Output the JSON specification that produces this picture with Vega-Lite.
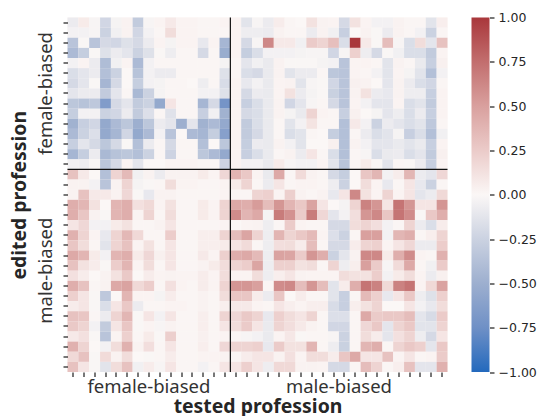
{"$schema":"https://vega.github.io/schema/vega-lite/v6.json","background":"white","padding":{"left":8.5,"top":11.5,"right":0,"bottom":4},"spacing":23,"config":{"view":{"stroke":null},"axis":{"grid":false,"domain":false,"tickColor":"#262626","tickWidth":1.25,"tickSize":4.5,"labelColor":"#333333"}},"datasets":{"cells":[
{"r":0,"c":0,"v":-0.08},{"r":0,"c":1,"v":0.07},{"r":0,"c":2,"v":-0.02},{"r":0,"c":3,"v":-0.22},{"r":0,"c":4,"v":-0.03},{"r":0,"c":5,"v":0.03},{"r":0,"c":6,"v":-0.3},{"r":0,"c":7,"v":-0.02},{"r":0,"c":8,"v":0.02},{"r":0,"c":9,"v":0.08},{"r":0,"c":10,"v":0.02},{"r":0,"c":11,"v":0.02},{"r":0,"c":12,"v":0.01},{"r":0,"c":13,"v":0.01},{"r":0,"c":14,"v":0.02},{"r":0,"c":15,"v":0.02},{"r":0,"c":16,"v":-0.13},{"r":0,"c":17,"v":-0.02},{"r":0,"c":18,"v":-0.08},{"r":0,"c":19,"v":0.06},{"r":0,"c":20,"v":0.01},{"r":0,"c":21,"v":0},{"r":0,"c":22,"v":0.12},{"r":0,"c":23,"v":0.03},{"r":0,"c":24,"v":0.02},{"r":0,"c":25,"v":-0.2},{"r":0,"c":26,"v":0.12},{"r":0,"c":27,"v":0.02},{"r":0,"c":28,"v":-0.04},{"r":0,"c":29,"v":-0.04},{"r":0,"c":30,"v":0.03},{"r":0,"c":31,"v":0.01},{"r":0,"c":32,"v":0.01},{"r":0,"c":33,"v":-0.13},{"r":0,"c":34,"v":0.05},
{"r":1,"c":0,"v":-0.04},{"r":1,"c":1,"v":-0.04},{"r":1,"c":2,"v":-0.02},{"r":1,"c":3,"v":-0.25},{"r":1,"c":4,"v":-0.05},{"r":1,"c":5,"v":0.03},{"r":1,"c":6,"v":-0.22},{"r":1,"c":7,"v":-0.04},{"r":1,"c":8,"v":0.01},{"r":1,"c":9,"v":0.15},{"r":1,"c":10,"v":0.02},{"r":1,"c":11,"v":0.02},{"r":1,"c":12,"v":0.01},{"r":1,"c":13,"v":0.01},{"r":1,"c":14,"v":0.01},{"r":1,"c":15,"v":0.02},{"r":1,"c":16,"v":-0.07},{"r":1,"c":17,"v":-0.07},{"r":1,"c":18,"v":-0.08},{"r":1,"c":19,"v":0.03},{"r":1,"c":20,"v":0.01},{"r":1,"c":21,"v":0.01},{"r":1,"c":22,"v":-0.08},{"r":1,"c":23,"v":0.03},{"r":1,"c":24,"v":-0.05},{"r":1,"c":25,"v":-0.27},{"r":1,"c":26,"v":0},{"r":1,"c":27,"v":0.03},{"r":1,"c":28,"v":-0.01},{"r":1,"c":29,"v":-0.08},{"r":1,"c":30,"v":0.03},{"r":1,"c":31,"v":0.01},{"r":1,"c":32,"v":-0.04},{"r":1,"c":33,"v":-0.25},{"r":1,"c":34,"v":0.01},
{"r":2,"c":0,"v":-0.35},{"r":2,"c":1,"v":-0.01},{"r":2,"c":2,"v":-0.35},{"r":2,"c":3,"v":-0.2},{"r":2,"c":4,"v":-0.22},{"r":2,"c":5,"v":-0.15},{"r":2,"c":6,"v":-0.2},{"r":2,"c":7,"v":-0.08},{"r":2,"c":8,"v":0.02},{"r":2,"c":9,"v":-0.03},{"r":2,"c":10,"v":0.02},{"r":2,"c":11,"v":0.02},{"r":2,"c":12,"v":-0.1},{"r":2,"c":13,"v":0.02},{"r":2,"c":14,"v":-0.45},{"r":2,"c":15,"v":0.02},{"r":2,"c":16,"v":-0.2},{"r":2,"c":17,"v":-0.02},{"r":2,"c":18,"v":0.62},{"r":2,"c":19,"v":0.08},{"r":2,"c":20,"v":0.08},{"r":2,"c":21,"v":-0.05},{"r":2,"c":22,"v":0.25},{"r":2,"c":23,"v":0.2},{"r":2,"c":24,"v":0.32},{"r":2,"c":25,"v":-0.17},{"r":2,"c":26,"v":1},{"r":2,"c":27,"v":0.08},{"r":2,"c":28,"v":-0.01},{"r":2,"c":29,"v":0.33},{"r":2,"c":30,"v":-0.02},{"r":2,"c":31,"v":-0.17},{"r":2,"c":32,"v":0.15},{"r":2,"c":33,"v":-0.12},{"r":2,"c":34,"v":0.3},
{"r":3,"c":0,"v":-0.42},{"r":3,"c":1,"v":-0.28},{"r":3,"c":2,"v":-0.01},{"r":3,"c":3,"v":-0.15},{"r":3,"c":4,"v":-0.08},{"r":3,"c":5,"v":-0.12},{"r":3,"c":6,"v":-0.25},{"r":3,"c":7,"v":-0.15},{"r":3,"c":8,"v":-0.01},{"r":3,"c":9,"v":-0.07},{"r":3,"c":10,"v":0.01},{"r":3,"c":11,"v":0.01},{"r":3,"c":12,"v":-0.2},{"r":3,"c":13,"v":0.01},{"r":3,"c":14,"v":-0.52},{"r":3,"c":15,"v":0.02},{"r":3,"c":16,"v":-0.28},{"r":3,"c":17,"v":-0.17},{"r":3,"c":18,"v":-0.04},{"r":3,"c":19,"v":-0.04},{"r":3,"c":20,"v":-0.04},{"r":3,"c":21,"v":-0.03},{"r":3,"c":22,"v":-0.02},{"r":3,"c":23,"v":-0.02},{"r":3,"c":24,"v":-0.22},{"r":3,"c":25,"v":-0.02},{"r":3,"c":26,"v":0.22},{"r":3,"c":27,"v":-0.07},{"r":3,"c":28,"v":-0.2},{"r":3,"c":29,"v":-0.01},{"r":3,"c":30,"v":-0.05},{"r":3,"c":31,"v":-0.17},{"r":3,"c":32,"v":-0.17},{"r":3,"c":33,"v":-0.3},{"r":3,"c":34,"v":0.02},
{"r":4,"c":0,"v":-0.04},{"r":4,"c":1,"v":0.02},{"r":4,"c":2,"v":-0.08},{"r":4,"c":3,"v":-0.4},{"r":4,"c":4,"v":-0.05},{"r":4,"c":5,"v":0.02},{"r":4,"c":6,"v":-0.42},{"r":4,"c":7,"v":-0.04},{"r":4,"c":8,"v":0.01},{"r":4,"c":9,"v":0.01},{"r":4,"c":10,"v":0.01},{"r":4,"c":11,"v":0.01},{"r":4,"c":12,"v":0.01},{"r":4,"c":13,"v":0.01},{"r":4,"c":14,"v":-0.03},{"r":4,"c":15,"v":0.01},{"r":4,"c":16,"v":-0.12},{"r":4,"c":17,"v":-0.05},{"r":4,"c":18,"v":-0.09},{"r":4,"c":19,"v":0.03},{"r":4,"c":20,"v":-0.01},{"r":4,"c":21,"v":-0.01},{"r":4,"c":22,"v":-0.01},{"r":4,"c":23,"v":-0.03},{"r":4,"c":24,"v":-0.04},{"r":4,"c":25,"v":-0.35},{"r":4,"c":26,"v":0.02},{"r":4,"c":27,"v":0.02},{"r":4,"c":28,"v":0.01},{"r":4,"c":29,"v":-0.13},{"r":4,"c":30,"v":0.03},{"r":4,"c":31,"v":0.01},{"r":4,"c":32,"v":-0.09},{"r":4,"c":33,"v":-0.27},{"r":4,"c":34,"v":0.04},
{"r":5,"c":0,"v":-0.17},{"r":5,"c":1,"v":-0.12},{"r":5,"c":2,"v":-0.08},{"r":5,"c":3,"v":-0.38},{"r":5,"c":4,"v":-0.25},{"r":5,"c":5,"v":0},{"r":5,"c":6,"v":-0.36},{"r":5,"c":7,"v":-0.04},{"r":5,"c":8,"v":-0.08},{"r":5,"c":9,"v":-0.08},{"r":5,"c":10,"v":0.01},{"r":5,"c":11,"v":0.01},{"r":5,"c":12,"v":0.01},{"r":5,"c":13,"v":0.01},{"r":5,"c":14,"v":-0.15},{"r":5,"c":15,"v":0.01},{"r":5,"c":16,"v":-0.17},{"r":5,"c":17,"v":-0.2},{"r":5,"c":18,"v":-0.09},{"r":5,"c":19,"v":0.03},{"r":5,"c":20,"v":-0.13},{"r":5,"c":21,"v":-0.08},{"r":5,"c":22,"v":-0.08},{"r":5,"c":23,"v":0.01},{"r":5,"c":24,"v":-0.33},{"r":5,"c":25,"v":-0.35},{"r":5,"c":26,"v":0.02},{"r":5,"c":27,"v":0.01},{"r":5,"c":28,"v":-0.04},{"r":5,"c":29,"v":-0.13},{"r":5,"c":30,"v":0.02},{"r":5,"c":31,"v":-0.03},{"r":5,"c":32,"v":-0.13},{"r":5,"c":33,"v":-0.38},{"r":5,"c":34,"v":-0.04},
{"r":6,"c":0,"v":-0.2},{"r":6,"c":1,"v":-0.12},{"r":6,"c":2,"v":-0.01},{"r":6,"c":3,"v":-0.45},{"r":6,"c":4,"v":-0.2},{"r":6,"c":5,"v":0},{"r":6,"c":6,"v":-0.28},{"r":6,"c":7,"v":-0.04},{"r":6,"c":8,"v":-0.03},{"r":6,"c":9,"v":0.01},{"r":6,"c":10,"v":0.01},{"r":6,"c":11,"v":0},{"r":6,"c":12,"v":-0.07},{"r":6,"c":13,"v":0.01},{"r":6,"c":14,"v":-0.18},{"r":6,"c":15,"v":0.02},{"r":6,"c":16,"v":-0.1},{"r":6,"c":17,"v":-0.04},{"r":6,"c":18,"v":-0.09},{"r":6,"c":19,"v":0.02},{"r":6,"c":20,"v":0.03},{"r":6,"c":21,"v":-0.13},{"r":6,"c":22,"v":-0.02},{"r":6,"c":23,"v":-0.01},{"r":6,"c":24,"v":-0.22},{"r":6,"c":25,"v":-0.35},{"r":6,"c":26,"v":0.04},{"r":6,"c":27,"v":0.03},{"r":6,"c":28,"v":0},{"r":6,"c":29,"v":-0.12},{"r":6,"c":30,"v":0.03},{"r":6,"c":31,"v":-0.08},{"r":6,"c":32,"v":-0.17},{"r":6,"c":33,"v":-0.22},{"r":6,"c":34,"v":0.01},
{"r":7,"c":0,"v":-0.12},{"r":7,"c":1,"v":-0.08},{"r":7,"c":2,"v":-0.08},{"r":7,"c":3,"v":-0.3},{"r":7,"c":4,"v":-0.12},{"r":7,"c":5,"v":0.01},{"r":7,"c":6,"v":-0.43},{"r":7,"c":7,"v":-0.25},{"r":7,"c":8,"v":-0.03},{"r":7,"c":9,"v":0.01},{"r":7,"c":10,"v":0.01},{"r":7,"c":11,"v":0.01},{"r":7,"c":12,"v":-0.04},{"r":7,"c":13,"v":-0.04},{"r":7,"c":14,"v":-0.15},{"r":7,"c":15,"v":0.02},{"r":7,"c":16,"v":-0.2},{"r":7,"c":17,"v":-0.08},{"r":7,"c":18,"v":-0.09},{"r":7,"c":19,"v":0.02},{"r":7,"c":20,"v":0.12},{"r":7,"c":21,"v":-0.08},{"r":7,"c":22,"v":-0.03},{"r":7,"c":23,"v":-0.01},{"r":7,"c":24,"v":-0.26},{"r":7,"c":25,"v":-0.35},{"r":7,"c":26,"v":0.03},{"r":7,"c":27,"v":0.12},{"r":7,"c":28,"v":-0.08},{"r":7,"c":29,"v":-0.1},{"r":7,"c":30,"v":0.03},{"r":7,"c":31,"v":-0.07},{"r":7,"c":32,"v":-0.07},{"r":7,"c":33,"v":-0.27},{"r":7,"c":34,"v":0.02},
{"r":8,"c":0,"v":-0.33},{"r":8,"c":1,"v":-0.36},{"r":8,"c":2,"v":-0.32},{"r":8,"c":3,"v":-0.65},{"r":8,"c":4,"v":-0.2},{"r":8,"c":5,"v":-0.12},{"r":8,"c":6,"v":-0.3},{"r":8,"c":7,"v":-0.25},{"r":8,"c":8,"v":-0.55},{"r":8,"c":9,"v":0.1},{"r":8,"c":10,"v":0.01},{"r":8,"c":11,"v":0.01},{"r":8,"c":12,"v":-0.45},{"r":8,"c":13,"v":-0.2},{"r":8,"c":14,"v":-0.72},{"r":8,"c":15,"v":0.02},{"r":8,"c":16,"v":-0.27},{"r":8,"c":17,"v":-0.17},{"r":8,"c":18,"v":-0.09},{"r":8,"c":19,"v":0.03},{"r":8,"c":20,"v":-0.22},{"r":8,"c":21,"v":-0.12},{"r":8,"c":22,"v":-0.02},{"r":8,"c":23,"v":0.01},{"r":8,"c":24,"v":-0.2},{"r":8,"c":25,"v":-0.35},{"r":8,"c":26,"v":0.02},{"r":8,"c":27,"v":-0.04},{"r":8,"c":28,"v":-0.12},{"r":8,"c":29,"v":-0.12},{"r":8,"c":30,"v":0.02},{"r":8,"c":31,"v":-0.17},{"r":8,"c":32,"v":-0.13},{"r":8,"c":33,"v":-0.3},{"r":8,"c":34,"v":0.02},
{"r":9,"c":0,"v":-0.28},{"r":9,"c":1,"v":-0.04},{"r":9,"c":2,"v":-0.04},{"r":9,"c":3,"v":-0.25},{"r":9,"c":4,"v":-0.22},{"r":9,"c":5,"v":-0.08},{"r":9,"c":6,"v":-0.3},{"r":9,"c":7,"v":-0.16},{"r":9,"c":8,"v":0.01},{"r":9,"c":9,"v":-0.14},{"r":9,"c":10,"v":0.01},{"r":9,"c":11,"v":0.01},{"r":9,"c":12,"v":-0.27},{"r":9,"c":13,"v":-0.05},{"r":9,"c":14,"v":-0.48},{"r":9,"c":15,"v":0.02},{"r":9,"c":16,"v":-0.2},{"r":9,"c":17,"v":-0.17},{"r":9,"c":18,"v":-0.09},{"r":9,"c":19,"v":0.03},{"r":9,"c":20,"v":-0.03},{"r":9,"c":21,"v":-0.09},{"r":9,"c":22,"v":0.2},{"r":9,"c":23,"v":0.02},{"r":9,"c":24,"v":0.01},{"r":9,"c":25,"v":-0.27},{"r":9,"c":26,"v":0.04},{"r":9,"c":27,"v":0},{"r":9,"c":28,"v":-0.03},{"r":9,"c":29,"v":-0.12},{"r":9,"c":30,"v":-0.07},{"r":9,"c":31,"v":-0.17},{"r":9,"c":32,"v":-0.08},{"r":9,"c":33,"v":-0.27},{"r":9,"c":34,"v":0.02},
{"r":10,"c":0,"v":-0.48},{"r":10,"c":1,"v":-0.27},{"r":10,"c":2,"v":-0.22},{"r":10,"c":3,"v":-0.55},{"r":10,"c":4,"v":-0.42},{"r":10,"c":5,"v":-0.33},{"r":10,"c":6,"v":-0.5},{"r":10,"c":7,"v":-0.33},{"r":10,"c":8,"v":-0.08},{"r":10,"c":9,"v":-0.12},{"r":10,"c":10,"v":-0.5},{"r":10,"c":11,"v":-0.12},{"r":10,"c":12,"v":-0.48},{"r":10,"c":13,"v":-0.42},{"r":10,"c":14,"v":-0.55},{"r":10,"c":15,"v":0.02},{"r":10,"c":16,"v":-0.3},{"r":10,"c":17,"v":-0.17},{"r":10,"c":18,"v":-0.09},{"r":10,"c":19,"v":0.01},{"r":10,"c":20,"v":-0.13},{"r":10,"c":21,"v":-0.04},{"r":10,"c":22,"v":0.11},{"r":10,"c":23,"v":0.01},{"r":10,"c":24,"v":0.01},{"r":10,"c":25,"v":-0.38},{"r":10,"c":26,"v":0.08},{"r":10,"c":27,"v":-0.04},{"r":10,"c":28,"v":-0.25},{"r":10,"c":29,"v":-0.08},{"r":10,"c":30,"v":-0.12},{"r":10,"c":31,"v":-0.17},{"r":10,"c":32,"v":-0.13},{"r":10,"c":33,"v":-0.32},{"r":10,"c":34,"v":0.01},
{"r":11,"c":0,"v":-0.42},{"r":11,"c":1,"v":-0.25},{"r":11,"c":2,"v":-0.16},{"r":11,"c":3,"v":-0.55},{"r":11,"c":4,"v":-0.45},{"r":11,"c":5,"v":-0.22},{"r":11,"c":6,"v":-0.55},{"r":11,"c":7,"v":-0.42},{"r":11,"c":8,"v":-0.04},{"r":11,"c":9,"v":-0.35},{"r":11,"c":10,"v":0},{"r":11,"c":11,"v":-0.42},{"r":11,"c":12,"v":-0.45},{"r":11,"c":13,"v":-0.28},{"r":11,"c":14,"v":-0.62},{"r":11,"c":15,"v":0.02},{"r":11,"c":16,"v":-0.3},{"r":11,"c":17,"v":-0.2},{"r":11,"c":18,"v":-0.09},{"r":11,"c":19,"v":0.01},{"r":11,"c":20,"v":-0.17},{"r":11,"c":21,"v":-0.13},{"r":11,"c":22,"v":0.01},{"r":11,"c":23,"v":0},{"r":11,"c":24,"v":-0.28},{"r":11,"c":25,"v":-0.38},{"r":11,"c":26,"v":0.01},{"r":11,"c":27,"v":-0.08},{"r":11,"c":28,"v":-0.17},{"r":11,"c":29,"v":-0.13},{"r":11,"c":30,"v":-0.03},{"r":11,"c":31,"v":-0.27},{"r":11,"c":32,"v":-0.17},{"r":11,"c":33,"v":-0.38},{"r":11,"c":34,"v":-0.05},
{"r":12,"c":0,"v":-0.27},{"r":12,"c":1,"v":-0.12},{"r":12,"c":2,"v":-0.2},{"r":12,"c":3,"v":-0.33},{"r":12,"c":4,"v":-0.2},{"r":12,"c":5,"v":-0.01},{"r":12,"c":6,"v":-0.38},{"r":12,"c":7,"v":-0.08},{"r":12,"c":8,"v":0.01},{"r":12,"c":9,"v":-0.2},{"r":12,"c":10,"v":0.01},{"r":12,"c":11,"v":0.01},{"r":12,"c":12,"v":-0.38},{"r":12,"c":13,"v":0},{"r":12,"c":14,"v":-0.33},{"r":12,"c":15,"v":0.02},{"r":12,"c":16,"v":-0.28},{"r":12,"c":17,"v":-0.08},{"r":12,"c":18,"v":-0.09},{"r":12,"c":19,"v":0.03},{"r":12,"c":20,"v":-0.04},{"r":12,"c":21,"v":-0.13},{"r":12,"c":22,"v":0},{"r":12,"c":23,"v":0},{"r":12,"c":24,"v":0.04},{"r":12,"c":25,"v":-0.38},{"r":12,"c":26,"v":0.03},{"r":12,"c":27,"v":-0.04},{"r":12,"c":28,"v":-0.12},{"r":12,"c":29,"v":-0.12},{"r":12,"c":30,"v":-0.09},{"r":12,"c":31,"v":-0.13},{"r":12,"c":32,"v":-0.09},{"r":12,"c":33,"v":-0.27},{"r":12,"c":34,"v":0.02},
{"r":13,"c":0,"v":-0.45},{"r":13,"c":1,"v":-0.28},{"r":13,"c":2,"v":-0.08},{"r":13,"c":3,"v":-0.43},{"r":13,"c":4,"v":-0.36},{"r":13,"c":5,"v":-0.33},{"r":13,"c":6,"v":-0.38},{"r":13,"c":7,"v":-0.25},{"r":13,"c":8,"v":0.01},{"r":13,"c":9,"v":-0.24},{"r":13,"c":10,"v":0.01},{"r":13,"c":11,"v":0.01},{"r":13,"c":12,"v":-0.33},{"r":13,"c":13,"v":-0.42},{"r":13,"c":14,"v":-0.55},{"r":13,"c":15,"v":0.02},{"r":13,"c":16,"v":-0.27},{"r":13,"c":17,"v":-0.17},{"r":13,"c":18,"v":-0.09},{"r":13,"c":19,"v":0.01},{"r":13,"c":20,"v":0.03},{"r":13,"c":21,"v":-0.08},{"r":13,"c":22,"v":0.1},{"r":13,"c":23,"v":0.01},{"r":13,"c":24,"v":-0.17},{"r":13,"c":25,"v":-0.38},{"r":13,"c":26,"v":0.01},{"r":13,"c":27,"v":-0.02},{"r":13,"c":28,"v":-0.17},{"r":13,"c":29,"v":-0.09},{"r":13,"c":30,"v":-0.08},{"r":13,"c":31,"v":-0.17},{"r":13,"c":32,"v":-0.12},{"r":13,"c":33,"v":-0.3},{"r":13,"c":34,"v":0.04},
{"r":14,"c":0,"v":-0.05},{"r":14,"c":1,"v":-0.06},{"r":14,"c":2,"v":-0.01},{"r":14,"c":3,"v":-0.33},{"r":14,"c":4,"v":-0.2},{"r":14,"c":5,"v":0.02},{"r":14,"c":6,"v":-0.12},{"r":14,"c":7,"v":0},{"r":14,"c":8,"v":0},{"r":14,"c":9,"v":0.02},{"r":14,"c":10,"v":0.02},{"r":14,"c":11,"v":0.02},{"r":14,"c":12,"v":0.01},{"r":14,"c":13,"v":0.01},{"r":14,"c":14,"v":-0.24},{"r":14,"c":15,"v":0.02},{"r":14,"c":16,"v":-0.04},{"r":14,"c":17,"v":-0.04},{"r":14,"c":18,"v":-0.09},{"r":14,"c":19,"v":0.07},{"r":14,"c":20,"v":-0.02},{"r":14,"c":21,"v":-0.04},{"r":14,"c":22,"v":-0.04},{"r":14,"c":23,"v":0.02},{"r":14,"c":24,"v":-0.13},{"r":14,"c":25,"v":-0.35},{"r":14,"c":26,"v":0.01},{"r":14,"c":27,"v":0.07},{"r":14,"c":28,"v":-0.01},{"r":14,"c":29,"v":-0.13},{"r":14,"c":30,"v":0.01},{"r":14,"c":31,"v":-0.01},{"r":14,"c":32,"v":-0.08},{"r":14,"c":33,"v":-0.27},{"r":14,"c":34,"v":0.02},
{"r":15,"c":0,"v":0.3},{"r":15,"c":1,"v":0.08},{"r":15,"c":2,"v":0},{"r":15,"c":3,"v":-0.38},{"r":15,"c":4,"v":0.2},{"r":15,"c":5,"v":0.35},{"r":15,"c":6,"v":-0.05},{"r":15,"c":7,"v":0.03},{"r":15,"c":8,"v":-0.08},{"r":15,"c":9,"v":0.03},{"r":15,"c":10,"v":0.03},{"r":15,"c":11,"v":0.03},{"r":15,"c":12,"v":0.07},{"r":15,"c":13,"v":0.02},{"r":15,"c":14,"v":0.18},{"r":15,"c":15,"v":0.38},{"r":15,"c":16,"v":0.27},{"r":15,"c":17,"v":0.02},{"r":15,"c":18,"v":-0.09},{"r":15,"c":19,"v":0.45},{"r":15,"c":20,"v":0.01},{"r":15,"c":21,"v":0.16},{"r":15,"c":22,"v":0.03},{"r":15,"c":23,"v":0.01},{"r":15,"c":24,"v":-0.2},{"r":15,"c":25,"v":-0.28},{"r":15,"c":26,"v":0},{"r":15,"c":27,"v":0.28},{"r":15,"c":28,"v":0.37},{"r":15,"c":29,"v":-0.04},{"r":15,"c":30,"v":0.06},{"r":15,"c":31,"v":0.37},{"r":15,"c":32,"v":-0.08},{"r":15,"c":33,"v":-0.12},{"r":15,"c":34,"v":0.18},
{"r":16,"c":0,"v":0.03},{"r":16,"c":1,"v":0.03},{"r":16,"c":2,"v":-0.04},{"r":16,"c":3,"v":-0.35},{"r":16,"c":4,"v":0.03},{"r":16,"c":5,"v":0.2},{"r":16,"c":6,"v":-0.03},{"r":16,"c":7,"v":-0.01},{"r":16,"c":8,"v":0.01},{"r":16,"c":9,"v":0.15},{"r":16,"c":10,"v":0.02},{"r":16,"c":11,"v":0.02},{"r":16,"c":12,"v":0.01},{"r":16,"c":13,"v":0.01},{"r":16,"c":14,"v":0.02},{"r":16,"c":15,"v":0.07},{"r":16,"c":16,"v":0.2},{"r":16,"c":17,"v":0.01},{"r":16,"c":18,"v":-0.08},{"r":16,"c":19,"v":0.1},{"r":16,"c":20,"v":0.01},{"r":16,"c":21,"v":0.02},{"r":16,"c":22,"v":0.02},{"r":16,"c":23,"v":0.01},{"r":16,"c":24,"v":-0.07},{"r":16,"c":25,"v":-0.25},{"r":16,"c":26,"v":0},{"r":16,"c":27,"v":0.15},{"r":16,"c":28,"v":0.02},{"r":16,"c":29,"v":-0.1},{"r":16,"c":30,"v":0.01},{"r":16,"c":31,"v":0.1},{"r":16,"c":32,"v":-0.1},{"r":16,"c":33,"v":-0.25},{"r":16,"c":34,"v":0.01},
{"r":17,"c":0,"v":0.03},{"r":17,"c":1,"v":0.3},{"r":17,"c":2,"v":0.08},{"r":17,"c":3,"v":0.08},{"r":17,"c":4,"v":0.03},{"r":17,"c":5,"v":0.18},{"r":17,"c":6,"v":-0.01},{"r":17,"c":7,"v":-0.1},{"r":17,"c":8,"v":0.03},{"r":17,"c":9,"v":0.03},{"r":17,"c":10,"v":0.01},{"r":17,"c":11,"v":0.01},{"r":17,"c":12,"v":0.01},{"r":17,"c":13,"v":0.01},{"r":17,"c":14,"v":0.02},{"r":17,"c":15,"v":0.01},{"r":17,"c":16,"v":0.01},{"r":17,"c":17,"v":0.2},{"r":17,"c":18,"v":0.22},{"r":17,"c":19,"v":0.02},{"r":17,"c":20,"v":0.23},{"r":17,"c":21,"v":0.03},{"r":17,"c":22,"v":0.01},{"r":17,"c":23,"v":0.03},{"r":17,"c":24,"v":-0.1},{"r":17,"c":25,"v":0.1},{"r":17,"c":26,"v":0.62},{"r":17,"c":27,"v":0.12},{"r":17,"c":28,"v":0.02},{"r":17,"c":29,"v":0.2},{"r":17,"c":30,"v":0.02},{"r":17,"c":31,"v":0.1},{"r":17,"c":32,"v":-0.12},{"r":17,"c":33,"v":-0.08},{"r":17,"c":34,"v":0.17},
{"r":18,"c":0,"v":0.42},{"r":18,"c":1,"v":0.37},{"r":18,"c":2,"v":0.12},{"r":18,"c":3,"v":0},{"r":18,"c":4,"v":0.38},{"r":18,"c":5,"v":0.42},{"r":18,"c":6,"v":0.13},{"r":18,"c":7,"v":0.17},{"r":18,"c":8,"v":0.02},{"r":18,"c":9,"v":0.12},{"r":18,"c":10,"v":0.01},{"r":18,"c":11,"v":0.01},{"r":18,"c":12,"v":0.07},{"r":18,"c":13,"v":0.02},{"r":18,"c":14,"v":0.2},{"r":18,"c":15,"v":0.45},{"r":18,"c":16,"v":0.42},{"r":18,"c":17,"v":0.52},{"r":18,"c":18,"v":0.33},{"r":18,"c":19,"v":0.55},{"r":18,"c":20,"v":0.38},{"r":18,"c":21,"v":0.27},{"r":18,"c":22,"v":0.48},{"r":18,"c":23,"v":0.1},{"r":18,"c":24,"v":0},{"r":18,"c":25,"v":-0.03},{"r":18,"c":26,"v":0.2},{"r":18,"c":27,"v":0.65},{"r":18,"c":28,"v":0.55},{"r":18,"c":29,"v":0.1},{"r":18,"c":30,"v":0.72},{"r":18,"c":31,"v":0.55},{"r":18,"c":32,"v":0.1},{"r":18,"c":33,"v":0.1},{"r":18,"c":34,"v":0.55},
{"r":19,"c":0,"v":0.42},{"r":19,"c":1,"v":0.28},{"r":19,"c":2,"v":0.03},{"r":19,"c":3,"v":-0.01},{"r":19,"c":4,"v":0.38},{"r":19,"c":5,"v":0.42},{"r":19,"c":6,"v":0.02},{"r":19,"c":7,"v":0.2},{"r":19,"c":8,"v":0.01},{"r":19,"c":9,"v":0.15},{"r":19,"c":10,"v":0.01},{"r":19,"c":11,"v":0.01},{"r":19,"c":12,"v":0.07},{"r":19,"c":13,"v":0.02},{"r":19,"c":14,"v":0.2},{"r":19,"c":15,"v":0.6},{"r":19,"c":16,"v":0.38},{"r":19,"c":17,"v":0.45},{"r":19,"c":18,"v":-0.03},{"r":19,"c":19,"v":0.68},{"r":19,"c":20,"v":0.57},{"r":19,"c":21,"v":0.25},{"r":19,"c":22,"v":0.68},{"r":19,"c":23,"v":0.18},{"r":19,"c":24,"v":-0.12},{"r":19,"c":25,"v":-0.04},{"r":19,"c":26,"v":0.14},{"r":19,"c":27,"v":0.55},{"r":19,"c":28,"v":0.62},{"r":19,"c":29,"v":0.28},{"r":19,"c":30,"v":0.72},{"r":19,"c":31,"v":0.6},{"r":19,"c":32,"v":-0.01},{"r":19,"c":33,"v":0.27},{"r":19,"c":34,"v":0.42},
{"r":20,"c":0,"v":0.1},{"r":20,"c":1,"v":0.18},{"r":20,"c":2,"v":-0.04},{"r":20,"c":3,"v":-0.04},{"r":20,"c":4,"v":0.07},{"r":20,"c":5,"v":0.12},{"r":20,"c":6,"v":0.01},{"r":20,"c":7,"v":0.01},{"r":20,"c":8,"v":0.03},{"r":20,"c":9,"v":0.1},{"r":20,"c":10,"v":0.01},{"r":20,"c":11,"v":0.01},{"r":20,"c":12,"v":0.01},{"r":20,"c":13,"v":0.01},{"r":20,"c":14,"v":0.02},{"r":20,"c":15,"v":0},{"r":20,"c":16,"v":0.02},{"r":20,"c":17,"v":0.03},{"r":20,"c":18,"v":-0.07},{"r":20,"c":19,"v":0.01},{"r":20,"c":20,"v":0.25},{"r":20,"c":21,"v":0.02},{"r":20,"c":22,"v":0.01},{"r":20,"c":23,"v":0.01},{"r":20,"c":24,"v":-0.2},{"r":20,"c":25,"v":-0.2},{"r":20,"c":26,"v":0.15},{"r":20,"c":27,"v":0.2},{"r":20,"c":28,"v":0.14},{"r":20,"c":29,"v":-0.04},{"r":20,"c":30,"v":0.01},{"r":20,"c":31,"v":0.2},{"r":20,"c":32,"v":-0.08},{"r":20,"c":33,"v":-0.17},{"r":20,"c":34,"v":0.06},
{"r":21,"c":0,"v":0.4},{"r":21,"c":1,"v":0.2},{"r":21,"c":2,"v":0.02},{"r":21,"c":3,"v":-0.1},{"r":21,"c":4,"v":0.2},{"r":21,"c":5,"v":0.36},{"r":21,"c":6,"v":0.17},{"r":21,"c":7,"v":0.01},{"r":21,"c":8,"v":0.01},{"r":21,"c":9,"v":0.24},{"r":21,"c":10,"v":0.01},{"r":21,"c":11,"v":0.01},{"r":21,"c":12,"v":0.05},{"r":21,"c":13,"v":0.05},{"r":21,"c":14,"v":0.2},{"r":21,"c":15,"v":0.33},{"r":21,"c":16,"v":0.47},{"r":21,"c":17,"v":0.2},{"r":21,"c":18,"v":-0.07},{"r":21,"c":19,"v":0.38},{"r":21,"c":20,"v":0.2},{"r":21,"c":21,"v":0.27},{"r":21,"c":22,"v":0.35},{"r":21,"c":23,"v":0.02},{"r":21,"c":24,"v":-0.16},{"r":21,"c":25,"v":-0.25},{"r":21,"c":26,"v":0.01},{"r":21,"c":27,"v":0.5},{"r":21,"c":28,"v":0.5},{"r":21,"c":29,"v":-0.04},{"r":21,"c":30,"v":0.37},{"r":21,"c":31,"v":0.42},{"r":21,"c":32,"v":0.01},{"r":21,"c":33,"v":0.05},{"r":21,"c":34,"v":0.2},
{"r":22,"c":0,"v":0.28},{"r":22,"c":1,"v":0.15},{"r":22,"c":2,"v":0.01},{"r":22,"c":3,"v":-0.13},{"r":22,"c":4,"v":0.2},{"r":22,"c":5,"v":0.3},{"r":22,"c":6,"v":0.02},{"r":22,"c":7,"v":0.12},{"r":22,"c":8,"v":0.01},{"r":22,"c":9,"v":0.1},{"r":22,"c":10,"v":0.01},{"r":22,"c":11,"v":0.01},{"r":22,"c":12,"v":0.05},{"r":22,"c":13,"v":0.05},{"r":22,"c":14,"v":0.07},{"r":22,"c":15,"v":0.1},{"r":22,"c":16,"v":0.16},{"r":22,"c":17,"v":0.01},{"r":22,"c":18,"v":-0.07},{"r":22,"c":19,"v":0.14},{"r":22,"c":20,"v":0.15},{"r":22,"c":21,"v":0.06},{"r":22,"c":22,"v":0.33},{"r":22,"c":23,"v":0.01},{"r":22,"c":24,"v":-0.2},{"r":22,"c":25,"v":-0.2},{"r":22,"c":26,"v":0.06},{"r":22,"c":27,"v":0.2},{"r":22,"c":28,"v":0.22},{"r":22,"c":29,"v":0.02},{"r":22,"c":30,"v":0.1},{"r":22,"c":31,"v":0.18},{"r":22,"c":32,"v":-0.08},{"r":22,"c":33,"v":-0.08},{"r":22,"c":34,"v":0.24},
{"r":23,"c":0,"v":0.45},{"r":23,"c":1,"v":0.38},{"r":23,"c":2,"v":0.07},{"r":23,"c":3,"v":-0.04},{"r":23,"c":4,"v":0.38},{"r":23,"c":5,"v":0.42},{"r":23,"c":6,"v":0.07},{"r":23,"c":7,"v":0.18},{"r":23,"c":8,"v":0.04},{"r":23,"c":9,"v":0.1},{"r":23,"c":10,"v":0.01},{"r":23,"c":11,"v":0.01},{"r":23,"c":12,"v":0.08},{"r":23,"c":13,"v":0.02},{"r":23,"c":14,"v":0.22},{"r":23,"c":15,"v":0.42},{"r":23,"c":16,"v":0.45},{"r":23,"c":17,"v":0.35},{"r":23,"c":18,"v":-0.07},{"r":23,"c":19,"v":0.48},{"r":23,"c":20,"v":0.47},{"r":23,"c":21,"v":0.25},{"r":23,"c":22,"v":0.55},{"r":23,"c":23,"v":0.42},{"r":23,"c":24,"v":-0.25},{"r":23,"c":25,"v":-0.12},{"r":23,"c":26,"v":0.03},{"r":23,"c":27,"v":0.62},{"r":23,"c":28,"v":0.62},{"r":23,"c":29,"v":0.07},{"r":23,"c":30,"v":0.42},{"r":23,"c":31,"v":0.6},{"r":23,"c":32,"v":0.02},{"r":23,"c":33,"v":0.01},{"r":23,"c":34,"v":0.4},
{"r":24,"c":0,"v":0.3},{"r":24,"c":1,"v":0.12},{"r":24,"c":2,"v":0.06},{"r":24,"c":3,"v":-0.01},{"r":24,"c":4,"v":0.24},{"r":24,"c":5,"v":0.38},{"r":24,"c":6,"v":0.02},{"r":24,"c":7,"v":0.15},{"r":24,"c":8,"v":0.01},{"r":24,"c":9,"v":0.1},{"r":24,"c":10,"v":0.01},{"r":24,"c":11,"v":0.01},{"r":24,"c":12,"v":0.03},{"r":24,"c":13,"v":0.07},{"r":24,"c":14,"v":0.15},{"r":24,"c":15,"v":0.2},{"r":24,"c":16,"v":0.24},{"r":24,"c":17,"v":0.47},{"r":24,"c":18,"v":-0.07},{"r":24,"c":19,"v":0.22},{"r":24,"c":20,"v":0.22},{"r":24,"c":21,"v":0.12},{"r":24,"c":22,"v":0.15},{"r":24,"c":23,"v":0.01},{"r":24,"c":24,"v":0.2},{"r":24,"c":25,"v":-0.07},{"r":24,"c":26,"v":0.05},{"r":24,"c":27,"v":0.5},{"r":24,"c":28,"v":0.25},{"r":24,"c":29,"v":-0.02},{"r":24,"c":30,"v":0.16},{"r":24,"c":31,"v":0.45},{"r":24,"c":32,"v":0.01},{"r":24,"c":33,"v":-0.05},{"r":24,"c":34,"v":0.25},
{"r":25,"c":0,"v":0.13},{"r":25,"c":1,"v":0.06},{"r":25,"c":2,"v":0},{"r":25,"c":3,"v":0.03},{"r":25,"c":4,"v":0.12},{"r":25,"c":5,"v":0.26},{"r":25,"c":6,"v":0},{"r":25,"c":7,"v":0.06},{"r":25,"c":8,"v":0.02},{"r":25,"c":9,"v":0.03},{"r":25,"c":10,"v":0.02},{"r":25,"c":11,"v":0.02},{"r":25,"c":12,"v":0.06},{"r":25,"c":13,"v":0.02},{"r":25,"c":14,"v":0.15},{"r":25,"c":15,"v":0.02},{"r":25,"c":16,"v":0.02},{"r":25,"c":17,"v":0.15},{"r":25,"c":18,"v":-0.07},{"r":25,"c":19,"v":0.05},{"r":25,"c":20,"v":0.1},{"r":25,"c":21,"v":0.03},{"r":25,"c":22,"v":0.02},{"r":25,"c":23,"v":0.02},{"r":25,"c":24,"v":0.02},{"r":25,"c":25,"v":0.15},{"r":25,"c":26,"v":0.12},{"r":25,"c":27,"v":0.12},{"r":25,"c":28,"v":0.24},{"r":25,"c":29,"v":-0.04},{"r":25,"c":30,"v":0.07},{"r":25,"c":31,"v":0.15},{"r":25,"c":32,"v":0.02},{"r":25,"c":33,"v":-0.08},{"r":25,"c":34,"v":0.04},
{"r":26,"c":0,"v":0.42},{"r":26,"c":1,"v":0.3},{"r":26,"c":2,"v":0.01},{"r":26,"c":3,"v":0.03},{"r":26,"c":4,"v":0.45},{"r":26,"c":5,"v":0.48},{"r":26,"c":6,"v":0.17},{"r":26,"c":7,"v":0.24},{"r":26,"c":8,"v":0.01},{"r":26,"c":9,"v":0.13},{"r":26,"c":10,"v":0.02},{"r":26,"c":11,"v":0.01},{"r":26,"c":12,"v":0.06},{"r":26,"c":13,"v":0.02},{"r":26,"c":14,"v":0.2},{"r":26,"c":15,"v":0.55},{"r":26,"c":16,"v":0.55},{"r":26,"c":17,"v":0.5},{"r":26,"c":18,"v":0.01},{"r":26,"c":19,"v":0.6},{"r":26,"c":20,"v":0.62},{"r":26,"c":21,"v":0.33},{"r":26,"c":22,"v":0.55},{"r":26,"c":23,"v":0.33},{"r":26,"c":24,"v":-0.13},{"r":26,"c":25,"v":0.06},{"r":26,"c":26,"v":0.42},{"r":26,"c":27,"v":0.72},{"r":26,"c":28,"v":0.65},{"r":26,"c":29,"v":0.17},{"r":26,"c":30,"v":0.65},{"r":26,"c":31,"v":0.72},{"r":26,"c":32,"v":0.02},{"r":26,"c":33,"v":0.17},{"r":26,"c":34,"v":0.48},
{"r":27,"c":0,"v":0.22},{"r":27,"c":1,"v":0.1},{"r":27,"c":2,"v":-0.01},{"r":27,"c":3,"v":-0.32},{"r":27,"c":4,"v":0},{"r":27,"c":5,"v":0.38},{"r":27,"c":6,"v":0.02},{"r":27,"c":7,"v":0.02},{"r":27,"c":8,"v":-0.03},{"r":27,"c":9,"v":0.06},{"r":27,"c":10,"v":0.01},{"r":27,"c":11,"v":0.01},{"r":27,"c":12,"v":0.03},{"r":27,"c":13,"v":0.01},{"r":27,"c":14,"v":0.15},{"r":27,"c":15,"v":0.28},{"r":27,"c":16,"v":0.28},{"r":27,"c":17,"v":0.06},{"r":27,"c":18,"v":-0.08},{"r":27,"c":19,"v":0.28},{"r":27,"c":20,"v":0},{"r":27,"c":21,"v":0.06},{"r":27,"c":22,"v":0.01},{"r":27,"c":23,"v":0.01},{"r":27,"c":24,"v":-0.13},{"r":27,"c":25,"v":-0.27},{"r":27,"c":26,"v":0.01},{"r":27,"c":27,"v":0.35},{"r":27,"c":28,"v":0.22},{"r":27,"c":29,"v":-0.1},{"r":27,"c":30,"v":0.1},{"r":27,"c":31,"v":0.27},{"r":27,"c":32,"v":-0.07},{"r":27,"c":33,"v":-0.15},{"r":27,"c":34,"v":0.22},
{"r":28,"c":0,"v":0.06},{"r":28,"c":1,"v":0.1},{"r":28,"c":2,"v":-0.01},{"r":28,"c":3,"v":-0.17},{"r":28,"c":4,"v":0.1},{"r":28,"c":5,"v":0.27},{"r":28,"c":6,"v":-0.08},{"r":28,"c":7,"v":0.01},{"r":28,"c":8,"v":0.01},{"r":28,"c":9,"v":0.02},{"r":28,"c":10,"v":0.02},{"r":28,"c":11,"v":0.01},{"r":28,"c":12,"v":0.03},{"r":28,"c":13,"v":0.01},{"r":28,"c":14,"v":0.05},{"r":28,"c":15,"v":0.08},{"r":28,"c":16,"v":0.08},{"r":28,"c":17,"v":0.02},{"r":28,"c":18,"v":0.01},{"r":28,"c":19,"v":0.1},{"r":28,"c":20,"v":0.05},{"r":28,"c":21,"v":0.02},{"r":28,"c":22,"v":0.05},{"r":28,"c":23,"v":0.05},{"r":28,"c":24,"v":-0.18},{"r":28,"c":25,"v":-0.27},{"r":28,"c":26,"v":0.05},{"r":28,"c":27,"v":0.12},{"r":28,"c":28,"v":0.2},{"r":28,"c":29,"v":0},{"r":28,"c":30,"v":0},{"r":28,"c":31,"v":0.1},{"r":28,"c":32,"v":-0.04},{"r":28,"c":33,"v":-0.1},{"r":28,"c":34,"v":0.15},
{"r":29,"c":0,"v":0.3},{"r":29,"c":1,"v":0.28},{"r":29,"c":2,"v":0.01},{"r":29,"c":3,"v":-0.08},{"r":29,"c":4,"v":0.2},{"r":29,"c":5,"v":0.37},{"r":29,"c":6,"v":-0.01},{"r":29,"c":7,"v":0.1},{"r":29,"c":8,"v":-0.04},{"r":29,"c":9,"v":0.1},{"r":29,"c":10,"v":0.01},{"r":29,"c":11,"v":0.01},{"r":29,"c":12,"v":0.05},{"r":29,"c":13,"v":0.01},{"r":29,"c":14,"v":0.2},{"r":29,"c":15,"v":0.18},{"r":29,"c":16,"v":0.26},{"r":29,"c":17,"v":0.2},{"r":29,"c":18,"v":-0.1},{"r":29,"c":19,"v":0.22},{"r":29,"c":20,"v":0.15},{"r":29,"c":21,"v":0.1},{"r":29,"c":22,"v":0.2},{"r":29,"c":23,"v":0.01},{"r":29,"c":24,"v":-0.16},{"r":29,"c":25,"v":-0.16},{"r":29,"c":26,"v":0.01},{"r":29,"c":27,"v":0.45},{"r":29,"c":28,"v":0.25},{"r":29,"c":29,"v":0.27},{"r":29,"c":30,"v":0.27},{"r":29,"c":31,"v":0.33},{"r":29,"c":32,"v":-0.12},{"r":29,"c":33,"v":-0.19},{"r":29,"c":34,"v":0.25},
{"r":30,"c":0,"v":0.26},{"r":30,"c":1,"v":0.2},{"r":30,"c":2,"v":-0.04},{"r":30,"c":3,"v":-0.3},{"r":30,"c":4,"v":0.1},{"r":30,"c":5,"v":0.28},{"r":30,"c":6,"v":-0.01},{"r":30,"c":7,"v":0.02},{"r":30,"c":8,"v":-0.02},{"r":30,"c":9,"v":0.03},{"r":30,"c":10,"v":0.01},{"r":30,"c":11,"v":0.01},{"r":30,"c":12,"v":0.05},{"r":30,"c":13,"v":0.01},{"r":30,"c":14,"v":0.1},{"r":30,"c":15,"v":0.15},{"r":30,"c":16,"v":0.25},{"r":30,"c":17,"v":0.1},{"r":30,"c":18,"v":-0.09},{"r":30,"c":19,"v":0.2},{"r":30,"c":20,"v":0.14},{"r":30,"c":21,"v":0.08},{"r":30,"c":22,"v":0.03},{"r":30,"c":23,"v":0.01},{"r":30,"c":24,"v":-0.22},{"r":30,"c":25,"v":-0.22},{"r":30,"c":26,"v":0.01},{"r":30,"c":27,"v":0.18},{"r":30,"c":28,"v":0.27},{"r":30,"c":29,"v":-0.12},{"r":30,"c":30,"v":0.2},{"r":30,"c":31,"v":0.27},{"r":30,"c":32,"v":-0.13},{"r":30,"c":33,"v":-0.13},{"r":30,"c":34,"v":0.2},
{"r":31,"c":0,"v":0.08},{"r":31,"c":1,"v":0.13},{"r":31,"c":2,"v":-0.01},{"r":31,"c":3,"v":-0.35},{"r":31,"c":4,"v":0.02},{"r":31,"c":5,"v":0.22},{"r":31,"c":6,"v":0.01},{"r":31,"c":7,"v":0.07},{"r":31,"c":8,"v":-0.01},{"r":31,"c":9,"v":0.23},{"r":31,"c":10,"v":0.01},{"r":31,"c":11,"v":0.01},{"r":31,"c":12,"v":0.04},{"r":31,"c":13,"v":0.01},{"r":31,"c":14,"v":0.02},{"r":31,"c":15,"v":0.01},{"r":31,"c":16,"v":-0.02},{"r":31,"c":17,"v":-0.04},{"r":31,"c":18,"v":-0.09},{"r":31,"c":19,"v":0.02},{"r":31,"c":20,"v":0.09},{"r":31,"c":21,"v":-0.01},{"r":31,"c":22,"v":0.01},{"r":31,"c":23,"v":0.01},{"r":31,"c":24,"v":-0.02},{"r":31,"c":25,"v":-0.25},{"r":31,"c":26,"v":0.01},{"r":31,"c":27,"v":0.15},{"r":31,"c":28,"v":0.06},{"r":31,"c":29,"v":-0.12},{"r":31,"c":30,"v":0.13},{"r":31,"c":31,"v":0.2},{"r":31,"c":32,"v":-0.07},{"r":31,"c":33,"v":-0.2},{"r":31,"c":34,"v":0.1},
{"r":32,"c":0,"v":0.4},{"r":32,"c":1,"v":0.2},{"r":32,"c":2,"v":0},{"r":32,"c":3,"v":-0.04},{"r":32,"c":4,"v":0.15},{"r":32,"c":5,"v":0.4},{"r":32,"c":6,"v":0.03},{"r":32,"c":7,"v":0.14},{"r":32,"c":8,"v":0.01},{"r":32,"c":9,"v":0.1},{"r":32,"c":10,"v":0.01},{"r":32,"c":11,"v":0.01},{"r":32,"c":12,"v":0.05},{"r":32,"c":13,"v":0.01},{"r":32,"c":14,"v":0.18},{"r":32,"c":15,"v":0.2},{"r":32,"c":16,"v":0.2},{"r":32,"c":17,"v":0.22},{"r":32,"c":18,"v":-0.1},{"r":32,"c":19,"v":0.25},{"r":32,"c":20,"v":0.12},{"r":32,"c":21,"v":0.12},{"r":32,"c":22,"v":0.38},{"r":32,"c":23,"v":0.01},{"r":32,"c":24,"v":-0.07},{"r":32,"c":25,"v":-0.26},{"r":32,"c":26,"v":0.01},{"r":32,"c":27,"v":0.37},{"r":32,"c":28,"v":0.42},{"r":32,"c":29,"v":0.01},{"r":32,"c":30,"v":0.2},{"r":32,"c":31,"v":0.27},{"r":32,"c":32,"v":0.22},{"r":32,"c":33,"v":-0.12},{"r":32,"c":34,"v":0.27},
{"r":33,"c":0,"v":0.17},{"r":33,"c":1,"v":0.3},{"r":33,"c":2,"v":-0.01},{"r":33,"c":3,"v":0.16},{"r":33,"c":4,"v":0.03},{"r":33,"c":5,"v":0.15},{"r":33,"c":6,"v":0},{"r":33,"c":7,"v":-0.01},{"r":33,"c":8,"v":0.01},{"r":33,"c":9,"v":0.06},{"r":33,"c":10,"v":0.01},{"r":33,"c":11,"v":0.01},{"r":33,"c":12,"v":0.02},{"r":33,"c":13,"v":0.02},{"r":33,"c":14,"v":0.03},{"r":33,"c":15,"v":0.01},{"r":33,"c":16,"v":0.06},{"r":33,"c":17,"v":0.1},{"r":33,"c":18,"v":0.1},{"r":33,"c":19,"v":0.03},{"r":33,"c":20,"v":0.13},{"r":33,"c":21,"v":0.02},{"r":33,"c":22,"v":0.15},{"r":33,"c":23,"v":0.15},{"r":33,"c":24,"v":0.06},{"r":33,"c":25,"v":0.28},{"r":33,"c":26,"v":0.45},{"r":33,"c":27,"v":0.1},{"r":33,"c":28,"v":0.1},{"r":33,"c":29,"v":0.3},{"r":33,"c":30,"v":0.02},{"r":33,"c":31,"v":0.1},{"r":33,"c":32,"v":0.01},{"r":33,"c":33,"v":0.02},{"r":33,"c":34,"v":0.25},
{"r":34,"c":0,"v":0.3},{"r":34,"c":1,"v":0.1},{"r":34,"c":2,"v":-0.01},{"r":34,"c":3,"v":-0.13},{"r":34,"c":4,"v":0.15},{"r":34,"c":5,"v":0.3},{"r":34,"c":6,"v":-0.05},{"r":34,"c":7,"v":0.06},{"r":34,"c":8,"v":-0.02},{"r":34,"c":9,"v":0.1},{"r":34,"c":10,"v":0.01},{"r":34,"c":11,"v":0.01},{"r":34,"c":12,"v":-0.04},{"r":34,"c":13,"v":0.01},{"r":34,"c":14,"v":0.1},{"r":34,"c":15,"v":0.1},{"r":34,"c":16,"v":0.22},{"r":34,"c":17,"v":0.1},{"r":34,"c":18,"v":-0.07},{"r":34,"c":19,"v":0.17},{"r":34,"c":20,"v":0.17},{"r":34,"c":21,"v":0.03},{"r":34,"c":22,"v":0.03},{"r":34,"c":23,"v":0.02},{"r":34,"c":24,"v":-0.2},{"r":34,"c":25,"v":-0.2},{"r":34,"c":26,"v":0.01},{"r":34,"c":27,"v":0.33},{"r":34,"c":28,"v":0.2},{"r":34,"c":29,"v":0.01},{"r":34,"c":30,"v":0.05},{"r":34,"c":31,"v":0.3},{"r":34,"c":32,"v":-0.12},{"r":34,"c":33,"v":-0.12},{"r":34,"c":34,"v":0.4}
]},"hconcat":[{"width":380,"height":354.5,"view":{"fill":"#fbf7f6"},"layer":[{"data":{"name":"cells"},"mark":{"type":"rect"},"encoding":{"x":{"field":"c","type":"ordinal","scale":{"type":"band","paddingInner":0,"paddingOuter":0},"axis":{"title":"tested profession","titleFont":"Noto Sans","titleFontSize":19.4,"titleFontWeight":"bold","titleColor":"#262626","titlePadding":1,"labelFont":"Noto Sans","labelFontSize":18.5,"labelAngle":0,"labelAlign":"center","labelOverlap":false,"labelBound":false,"labelPadding":1,"labelExpr":"datum.value==7?'female-biased':datum.value==24?'male-biased':''","encoding":{"labels":{"dx":{"condition":{"test":"datum.value==24","value":5.43},"value":0}}}}},"y":{"field":"r","type":"ordinal","scale":{"type":"band","paddingInner":0,"paddingOuter":0},"axis":{"title":"edited profession","titleFont":"Noto Sans","titleFontSize":19.4,"titleFontWeight":"bold","titleColor":"#262626","titlePadding":7.5,"labelFont":"Noto Sans","labelFontSize":18.5,"labelAngle":-90,"labelAlign":"center","labelBaseline":"bottom","labelOverlap":false,"labelBound":false,"labelPadding":7.5,"labelExpr":"datum.value==7?'female-biased':datum.value==24?'male-biased':''","encoding":{"labels":{"dx":{"condition":{"test":"datum.value==24","value":-5.07},"value":0}}}}},"color":{"field":"v","type":"quantitative","legend":null,"scale":{"domain":[-1,-0.75,-0.5,-0.25,0,0.25,0.5,0.75,1],"range":["#2369bd","#6f90c6","#9dafcf","#cbd2e1","#fbf7f6","#ebcbc9","#d9a09e","#c26e6e","#a9373b"],"interpolate":"rgb"}}}},{"data":{"values":[{"at":15}]},"mark":{"type":"rule","color":"#111111","strokeWidth":1.2},"encoding":{"x":{"field":"at","type":"ordinal","bandPosition":0}}},{"data":{"values":[{"at":15}]},"mark":{"type":"rule","color":"#111111","strokeWidth":1.2},"encoding":{"y":{"field":"at","type":"ordinal","bandPosition":0}}}]},{"width":18,"height":354.5,"data":{"values":[{"lo":-1,"hi":1}]},"mark":{"type":"rect","fill":{"gradient":"linear","x1":0,"y1":0,"x2":0,"y2":1,"stops":[{"offset":0,"color":"#a9373b"},{"offset":0.125,"color":"#c26e6e"},{"offset":0.25,"color":"#d9a09e"},{"offset":0.375,"color":"#ebcbc9"},{"offset":0.5,"color":"#fbf7f6"},{"offset":0.625,"color":"#cbd2e1"},{"offset":0.75,"color":"#9dafcf"},{"offset":0.875,"color":"#6f90c6"},{"offset":1,"color":"#2369bd"}]}},"encoding":{"y":{"field":"lo","type":"quantitative","scale":{"domain":[-1,1],"nice":false},"axis":{"orient":"right","title":null,"values":[-1,-0.75,-0.5,-0.25,0,0.25,0.5,0.75,1],"format":".2f","labelFont":"DejaVu Sans","labelFontSize":12.5,"labelColor":"#262626","labelPadding":4}},"y2":{"field":"hi"}}}]}
